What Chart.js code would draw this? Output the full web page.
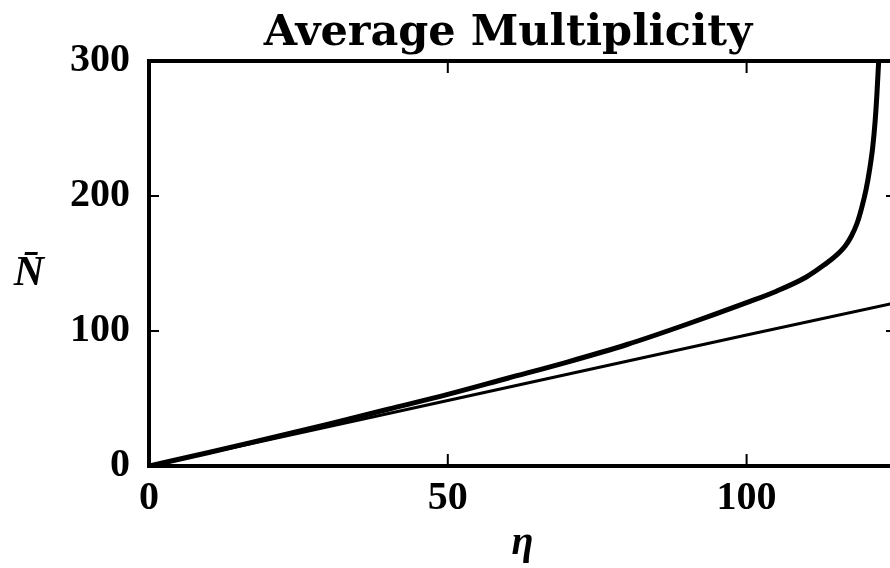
<!DOCTYPE html>
<html>
<head>
<meta charset="utf-8">
<script src="https://cdn.jsdelivr.net/npm/chart.js@4.4.1/dist/chart.umd.min.js"></script>
<style>
html,body{margin:0;padding:0;background:#fff;overflow:hidden;}
#wrap{position:relative;width:900px;height:568px;}
</style>
</head>
<body>
<div id="wrap"><canvas id="c" width="900" height="568"></canvas></div>
<script>
// ---- data ----
const titleText = 'Average Multiplicity';
const xLabel = 'η';
const yLabel = 'N\u0304';
const xTicks = [0, 50, 100];
const yTicks = [0, 100, 200, 300];

// thick curve: exact average multiplicity
const etaCurve = [0, 10, 20, 30, 40, 50, 60, 70, 80, 90, 100, 105, 110, 113, 115, 116.5, 117.5, 118.5, 119.3, 120, 120.6, 121.1, 121.5, 121.8, 122.1];
const nCurve   = [0, 10, 20.5, 31, 42, 53, 65, 77, 90, 105, 121, 129.5, 140, 149, 156, 163, 170, 180, 192, 205, 220, 236, 255, 275, 300];

// thin straight line
const etaLine = [0, 50, 100, 125];
const nLine   = [0, 48.5, 97, 121];

const serif = '"Liberation Serif", "DejaVu Serif", serif';

const framePlugin = {
  id: 'frame',
  afterDraw(chart) {
    const {ctx, chartArea: a, scales} = chart;
    ctx.save();
    ctx.strokeStyle = '#000';
    ctx.lineWidth = 4;
    ctx.strokeRect(a.left, a.top, a.right - a.left, a.bottom - a.top);
    ctx.lineWidth = 2;
    ctx.beginPath();
    xTicks.forEach(v => {
      const px = scales.x.getPixelForValue(v);
      ctx.moveTo(px, a.bottom); ctx.lineTo(px, a.bottom - 12);
      ctx.moveTo(px, a.top); ctx.lineTo(px, a.top + 12);
    });
    yTicks.forEach(v => {
      const py = scales.y.getPixelForValue(v);
      ctx.moveTo(a.left, py); ctx.lineTo(a.left + 10, py);
      ctx.moveTo(a.right, py); ctx.lineTo(a.right - 10, py);
    });
    ctx.stroke();
    // title
    ctx.fillStyle = '#000';
    ctx.textAlign = 'center';
    ctx.textBaseline = 'alphabetic';
    ctx.font = 'bold 43px "DejaVu Serif", serif';
    ctx.fillText(titleText, 508, 45);
    // y label
    ctx.font = 'italic bold 42px ' + serif;
    ctx.fillText(yLabel, 29, 285);
    ctx.restore();
  }
};

new Chart(document.getElementById('c'), {
  type: 'scatter',
  data: {
    datasets: [
      {
        label: 'exact',
        data: etaCurve.map((x, i) => ({x, y: nCurve[i]})),
        showLine: true,
        borderColor: '#000',
        borderWidth: 5,
        pointRadius: 0,
        cubicInterpolationMode: 'monotone',
        order: 1
      },
      {
        label: 'linear',
        data: etaLine.map((x, i) => ({x, y: nLine[i]})),
        showLine: true,
        borderColor: '#000',
        borderWidth: 3,
        pointRadius: 0,
        order: 2
      }
    ]
  },
  options: {
    responsive: false,
    animation: false,
    layout: {padding: {top: 61, right: 4, bottom: 0, left: 0}},
    plugins: {legend: {display: false}, title: {display: false}, tooltip: {enabled: false}},
    scales: {
      x: {
        type: 'linear',
        min: 0, max: 125,
        afterFit(s) { s.height = 102; },
        grid: {display: false, drawTicks: false},
        border: {display: false},
        afterBuildTicks(s) { s.ticks = xTicks.map(v => ({value: v})); },
        ticks: {padding: 9, color: '#000', font: {family: serif, weight: 'bold', size: 40}},
        title: {display: true, text: xLabel, color: '#000', padding: {top: 0, bottom: 0},
                font: {family: serif, style: 'italic', weight: 'bold', size: 40}}
      },
      y: {
        type: 'linear',
        min: 0, max: 300,
        afterFit(s) { s.width = 149; },
        grid: {display: false, drawTicks: false},
        border: {display: false},
        afterBuildTicks(s) { s.ticks = yTicks.map(v => ({value: v})); },
        ticks: {padding: 19, color: '#000', font: {family: serif, weight: 'bold', size: 40}}
      }
    }
  },
  plugins: [framePlugin]
});
</script>
</body>
</html>
